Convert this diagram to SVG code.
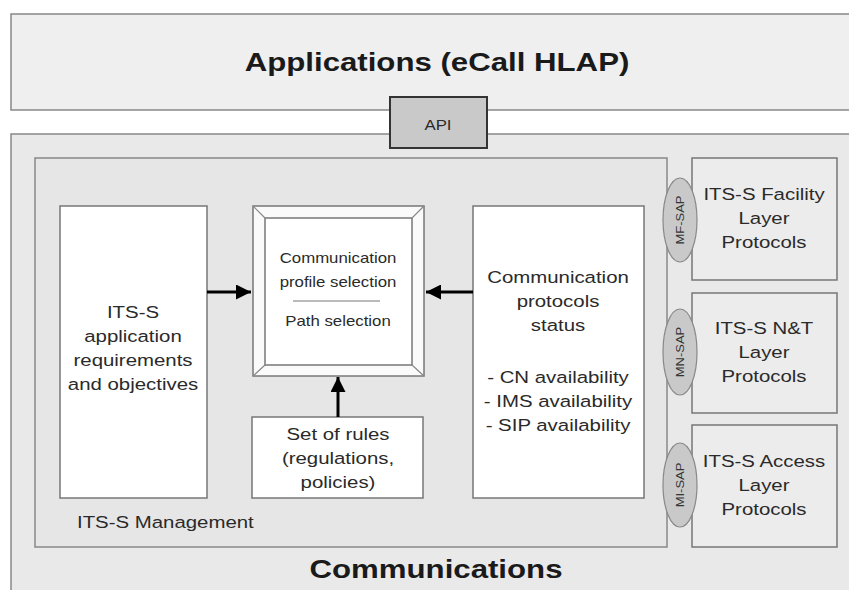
<svg xmlns="http://www.w3.org/2000/svg" width="849" height="590" viewBox="0 0 849 590">
<defs>
<style>
text{font-family:"Liberation Sans",Arial,sans-serif;fill:#2a2a2a;text-anchor:middle}
.t17{font-size:17px}
.t14{font-size:14px}
.big{font-size:26px;font-weight:bold;fill:#1a1a1a}
.sap{font-size:10px;fill:#333}
.box{fill:#ffffff;stroke:#777;stroke-width:1.5}
.lay{fill:#ececec;stroke:#777;stroke-width:1.5}
.ell{fill:#c9c9c9;stroke:#888;stroke-width:1.2}
.arr{stroke:#000;stroke-width:3;fill:none}
</style>
<marker id="ah" viewBox="0 0 10 10" refX="10" refY="5" markerWidth="5" markerHeight="5" markerUnits="strokeWidth" orient="auto">
<path d="M0,0 L10,5 L0,10 z" fill="#000"/>
</marker>
</defs>
<rect width="849" height="590" fill="#ffffff"/>
<g id="applications">
<rect x="11" y="14" width="845" height="96" fill="#efefef" stroke="#888" stroke-width="1.5"/>
<text class="big" transform="translate(437,71) scale(1.2,1)">Applications (eCall HLAP)</text>
</g>
<g id="communications">
<rect x="11" y="134" width="845" height="470" fill="#e9e9e9" stroke="#888" stroke-width="1.5"/>
<text class="big" transform="translate(436,578) scale(1.2,1)">Communications</text>
</g>
<g id="api">
<rect x="390" y="97" width="97" height="51" fill="#c9c9c9" stroke="#333" stroke-width="2"/>
<text class="t14" transform="translate(438,130) scale(1.2,1)">API</text>
</g>
<g id="management">
<rect x="35" y="158" width="632" height="389" fill="#e6e6e6" stroke="#888" stroke-width="1.5"/>
<text class="t17" transform="translate(77,528) scale(1.2,1)" style="text-anchor:start">ITS-S Management</text>
</g>
<g id="app-req">
<rect class="box" x="60" y="206" width="147" height="292"/>
<text class="t17" transform="translate(133,318) scale(1.2,1)">ITS-S</text>
<text class="t17" transform="translate(133,342) scale(1.2,1)">application</text>
<text class="t17" transform="translate(133,366) scale(1.2,1)">requirements</text>
<text class="t17" transform="translate(133,390) scale(1.2,1)">and objectives</text>
</g>
<g id="selection">
<rect x="253" y="206" width="171" height="170" fill="#fafafa" stroke="#777" stroke-width="1.5"/>
<rect x="265" y="218" width="147" height="147" fill="#ffffff" stroke="#777" stroke-width="1.5"/>
<path d="M253,206 L265,218 M424,206 L412,218 M253,376 L265,365 M424,376 L412,365" stroke="#888" stroke-width="1.2"/>
<text class="t14" transform="translate(338,263) scale(1.2,1)">Communication</text>
<text class="t14" transform="translate(338,287) scale(1.2,1)">profile selection</text>
<line x1="293" y1="301" x2="380" y2="301" stroke="#777" stroke-width="1.2"/>
<text class="t14" transform="translate(338,326) scale(1.2,1)">Path selection</text>
</g>
<g id="rules">
<rect class="box" x="252" y="417" width="171" height="81"/>
<text class="t17" transform="translate(338,440) scale(1.2,1)">Set of rules</text>
<text class="t17" transform="translate(338,464) scale(1.2,1)">(regulations,</text>
<text class="t17" transform="translate(338,488) scale(1.2,1)">policies)</text>
</g>
<g id="status">
<rect class="box" x="473" y="206" width="171" height="292"/>
<text class="t17" transform="translate(558,283) scale(1.2,1)">Communication</text>
<text class="t17" transform="translate(558,307) scale(1.2,1)">protocols</text>
<text class="t17" transform="translate(558,331) scale(1.2,1)">status</text>
<text class="t17" transform="translate(558,383) scale(1.2,1)">- CN availability</text>
<text class="t17" transform="translate(558,407) scale(1.2,1)">- IMS availability</text>
<text class="t17" transform="translate(558,431) scale(1.2,1)">- SIP availability</text>
</g>
<g id="facility">
<rect class="lay" x="692" y="158" width="145" height="122"/>
<text class="t17" transform="translate(764,200) scale(1.2,1)">ITS-S Facility</text>
<text class="t17" transform="translate(764,224) scale(1.2,1)">Layer</text>
<text class="t17" transform="translate(764,248) scale(1.2,1)">Protocols</text>
</g>
<g id="nt">
<rect class="lay" x="692" y="293" width="145" height="120"/>
<text class="t17" transform="translate(764,334) scale(1.2,1)">ITS-S N&amp;T</text>
<text class="t17" transform="translate(764,358) scale(1.2,1)">Layer</text>
<text class="t17" transform="translate(764,382) scale(1.2,1)">Protocols</text>
</g>
<g id="access">
<rect class="lay" x="692" y="425" width="145" height="122"/>
<text class="t17" transform="translate(764,467) scale(1.2,1)">ITS-S Access</text>
<text class="t17" transform="translate(764,491) scale(1.2,1)">Layer</text>
<text class="t17" transform="translate(764,515) scale(1.2,1)">Protocols</text>
</g>
<g id="mf-sap">
<ellipse class="ell" cx="680" cy="220" rx="17" ry="42"/>
<text class="sap" transform="translate(684,220) rotate(-90) scale(1.3,1)">MF-SAP</text>
</g>
<g id="mn-sap">
<ellipse class="ell" cx="680" cy="352" rx="17" ry="43"/>
<text class="sap" transform="translate(684,352) rotate(-90) scale(1.3,1)">MN-SAP</text>
</g>
<g id="mi-sap">
<ellipse class="ell" cx="680" cy="485" rx="17" ry="42"/>
<text class="sap" transform="translate(684,485) rotate(-90) scale(1.3,1)">MI-SAP</text>
</g>
<g id="connectors">
<line class="arr" x1="207" y1="292" x2="251" y2="292" marker-end="url(#ah)"/>
<line class="arr" x1="473" y1="292" x2="426" y2="292" marker-end="url(#ah)"/>
<line class="arr" x1="338" y1="417" x2="338" y2="377" marker-end="url(#ah)"/>
</g>
</svg>
